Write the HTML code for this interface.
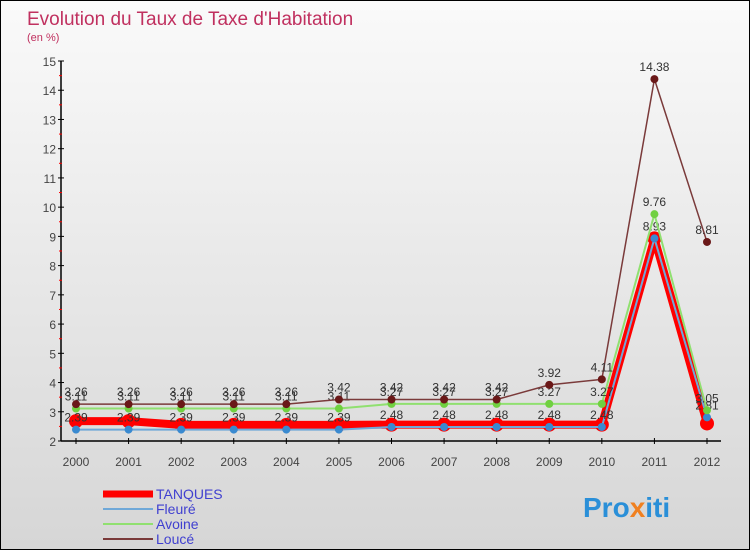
<!DOCTYPE html>
<html><head><meta charset="utf-8"><style>
body{margin:0}
#c{width:750px;height:550px;position:relative;overflow:hidden;border:1px solid #000;box-sizing:border-box;background:linear-gradient(#fafafa,#d6d6d6);font-family:"Liberation Sans",sans-serif}
</style></head><body>
<div id="c">
<svg id="s" width="750" height="550" style="position:absolute;left:0;top:0">
<text x="26" y="24" font-size="19" fill="#c0305f">Evolution du Taux de Taxe d'Habitation</text>
<text x="26" y="40" font-size="11" fill="#c0305f">(en %)</text>
<g id="axes"></g><g id="series"></g>
<g>
<line x1="102" y1="493" x2="152" y2="493" stroke="#f00" stroke-width="7"/><text x="155" y="498" font-size="14" fill="#4040d0">TANQUES</text>
<line x1="102" y1="508" x2="152" y2="508" stroke="#6fa8d8" stroke-width="2"/><text x="155" y="513" font-size="14" fill="#4040d0">Fleuré</text>
<line x1="102" y1="523" x2="152" y2="523" stroke="#90e070" stroke-width="2"/><text x="155" y="528" font-size="14" fill="#4040d0">Avoine</text>
<line x1="102" y1="538" x2="152" y2="538" stroke="#7a3a3a" stroke-width="2"/><text x="155" y="543" font-size="14" fill="#4040d0">Loucé</text>
</g>
<text x="582" y="516" font-size="28" font-weight="bold" fill="#2a8fd8">Pro<tspan fill="#f08020">x</tspan>iti</text>
</svg>
</div>
<script>
const years=["2000","2001","2002","2003","2004","2005","2006","2007","2008","2009","2010","2011","2012"];
const yTicks=[2,3,4,5,6,7,8,9,10,11,12,13,14,15];
const louce=[3.26,3.26,3.26,3.26,3.26,3.42,3.42,3.42,3.42,3.92,4.11,14.38,8.81];
const avoine=[3.11,3.11,3.11,3.11,3.11,3.11,3.27,3.27,3.27,3.27,3.27,9.76,3.05];
const fleure=[2.39,2.39,2.39,2.39,2.39,2.39,2.48,2.48,2.48,2.48,2.48,8.93,2.81];
const tanques=[2.68,2.68,2.55,2.55,2.55,2.55,2.56,2.56,2.56,2.56,2.56,8.93,2.6];
const NS="http://www.w3.org/2000/svg";
const X=i=>75+i*(706-75)/12, Y=v=>440-(v-2)*(380/13);
function mk(t,a,p){const e=document.createElementNS(NS,t);for(const k in a)e.setAttribute(k,a[k]);p.appendChild(e);return e;}
const ax=document.getElementById('axes'),sr=document.getElementById('series');
let l=mk('line',{x1:60,y1:60,x2:60,y2:440,stroke:'#000','stroke-width':1.5},ax);


l=mk('line',{x1:60,y1:440,x2:720,y2:440,stroke:'#000','stroke-width':1.5},ax);


yTicks.forEach(v=>{mk('line',{x1:57,x2:63,y1:Y(v),y2:Y(v),stroke:'#000'},ax);
 if(v<15)mk('line',{x1:58,x2:61,y1:Y(v+0.5),y2:Y(v+0.5),stroke:'#f00'},ax);
 const t=mk('text',{x:55,y:Y(v)+5,'font-size':12,fill:'#444','text-anchor':'end'},ax);t.textContent=v;
 
 });
years.forEach((y,i)=>{mk('line',{x1:X(i),x2:X(i),y1:437,y2:443,stroke:'#000'},ax);
 const t=mk('text',{x:X(i),y:465,'font-size':12,fill:'#444','text-anchor':'middle'},ax);t.textContent=y;
 
 });
function series(data,color,w,r,name,fill,labels){
 const g=mk('g',{},sr);
 
 
 mk('polyline',{points:data.map((v,i)=>X(i)+','+Y(v)).join(' '),fill:'none',stroke:color,'stroke-width':w,'stroke-linejoin':'round'},g);
 data.forEach((v,i)=>{const c=mk('circle',{cx:X(i),cy:Y(v),r:r,fill:fill},g);
  
  
  if(labels){const t=mk('text',{x:X(i),y:Y(v)-8,'font-size':12,fill:'#333','text-anchor':'middle'},g);t.textContent=v.toFixed(2);
   
   }});
}
series(tanques,'#f00',8,7,'tanques-series','#f00',false);
series(fleure,'#6fa8d8',2,4,'fleure-series','#3a8ad0',true);
series(avoine,'#90e070',2,4,'avoine-series','#70d040',true);
series(louce,'#7a3a3a',1.5,4,'louce-series','#6a1818',true);
</script>
</body></html>
